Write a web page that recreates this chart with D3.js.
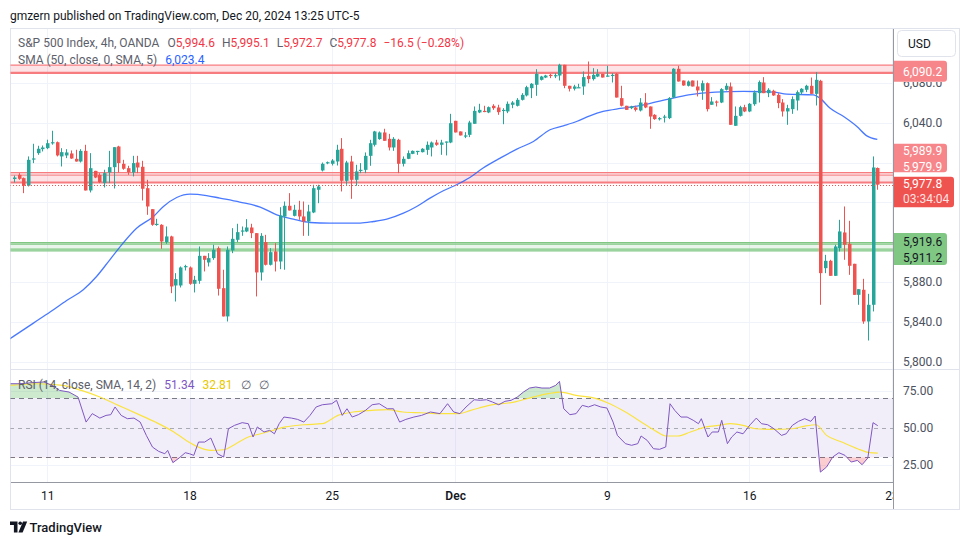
<!DOCTYPE html>
<html><head><meta charset="utf-8">
<script src="https://cdn.jsdelivr.net/npm/d3@7/dist/d3.min.js"></script>
<style>
html,body{margin:0;padding:0;background:#fff;}
svg{display:block;}
text{font-family:Roboto,"Noto Sans",sans-serif;}
</style></head><body>
<svg id="chart" width="970" height="545"></svg>
<script>
// ---------------- data ----------------
const opens = [5983.5,5987.7,5984.4,5976.7,6003.5,6009.5,6013.5,6014.5,6019.8,6020.5,
6006.2,6007.2,6009.2,6003.8,6001.1,6011.8,5972,5991.7,5987.7,5979.4,
5990.1,5995.4,6016.2,5998.8,5994.4,5990.1,6000.1,5995.8,5974.3,5953.2,
5937.8,5937.5,5920.1,5925.8,5876.5,5876.5,5895.3,5894.6,5878.2,5881.2,
5906.3,5899.6,5904,5914,5873.8,5845.4,5911.7,5922.4,5931,5930.8,
5934.8,5929.1,5889.6,5920.1,5897.3,5910.7,5900.6,5945.8,5956.6,5946.5,
5952.6,5945.9,5940.8,5949.9,5972.7,5992.1,5999.8,5998.8,6001.1,6013.9,
5981.7,6001.1,5982.7,5992,5992.7,6006.8,6017.9,6023.6,6030.3,6023.9,
6015.2,6022.9,5998.8,6003.8,6008.8,6011.5,6010.5,6012.8,6015.2,6020.2,
6017.9,6020.9,6020.2,6042,6031.3,6027,6027.9,6039,6050.4,6052,
6050.4,6057.1,6055.4,6052.4,6051.4,6058.1,6057.1,6063.1,6067.5,6074.8,
6078.2,6083.2,6085.5,6088.2,6086.9,6087.5,6098.3,6077.2,6074.2,6075.5,
6076.5,6087.2,6083.9,6086.5,6089.2,6087.2,6087.9,6089.2,6064.8,6057.1,
6054.7,6055.4,6052.4,6060.4,6056.4,6048,6044.5,6045.9,6044.7,6065.4,
6094.3,6082.5,6077.2,6082.5,6076.5,6072.2,6079.8,6058.1,6061.4,6060.4,
6073.2,6076.5,6037,6047,6055.7,6051.4,6058.7,6069.8,6080.5,6069.8,
6072.2,6068.1,6060.4,6051.4,6053.7,6062.4,6070.5,6073.2,6077.2,6069.1,
6082.2,5893.9,5901.3,5886.2,5914,5929.8,5918.4,5898.3,5867.1,5872.2,
5840.3,5857.1,5994.6];
const highs = [5987,5989.4,5985,6006.2,6018.9,6016.9,6017.2,6023,6032,6021.2,
6014.5,6013.5,6012.2,6012.9,6013.5,6017.9,6009.5,5991.7,5989.4,5992.8,
6011.8,6015.5,6016.9,6002.8,5996.8,6006.8,6006.8,6001.8,5982.7,5953.2,
5943.5,5938.1,5935.8,5926.5,5888.9,5895.6,5897.3,5895.6,5886.2,5915.7,
5906.3,5909,5917.4,5915.7,5892.3,5915.7,5934.1,5938.5,5935.8,5943.2,
5938.5,5929.1,5929.1,5927.4,5914,5919,5955.2,5960.9,5969.3,5957.6,
5961.6,5960.9,5957.6,5977.7,5977.7,6000.1,6001.1,6003.5,6017.9,6024.6,
6001.8,6006.8,5997.8,5999.5,6010.2,6022.9,6031.9,6031.3,6034,6028.9,
6025.6,6023.9,6006.2,6012.2,6012.2,6011.8,6014.5,6021.2,6021.2,6022.9,
6022.9,6021.2,6049,6042,6031.3,6030.6,6042,6056.4,6059.1,6057.1,
6056.4,6058.7,6058.1,6054.7,6061.4,6061.8,6064.8,6069.8,6077.2,6079.9,
6093.9,6087.2,6088.2,6089.2,6089.9,6099.3,6098.3,6077.2,6078.2,6079.2,
6091.6,6101.6,6094.9,6093.9,6089.2,6097.3,6089.9,6089.9,6077.2,6057.1,
6057.1,6057.1,6064.8,6069.8,6056.4,6048.7,6045.7,6048,6065.8,6094.9,
6097.3,6082.5,6082.5,6082.5,6082.5,6082.5,6080.5,6065.8,6062.4,6074.8,
6079.8,6080.5,6056.4,6057.1,6058.1,6059.8,6072.5,6082.5,6085.9,6074.8,
6073.2,6069.8,6063.8,6058.1,6066.5,6072.5,6074.8,6078.2,6085.5,6090.9,
6083.2,5907.3,5902.3,5917.4,5942.5,5955.9,5941.5,5898.3,5872.8,5883.2,
5868.1,6006.2,5995.1];
const lows = [5980,5982.7,5969.3,5976,5999.5,6007.8,6011.2,6013.5,6018,6006.2,
5996.1,6004.5,6003.8,6001,6000.1,5972,5970,5984.4,5979.4,5975,
5979.4,5974,5990.1,5992.8,5987.7,5986.1,5989.4,5961.9,5947.5,5936.5,
5936.5,5913.4,5918.4,5868.8,5860.4,5874.5,5891.6,5877.2,5869.5,5878.2,
5890.6,5895.6,5902.3,5866.4,5845.4,5840.3,5909,5920.1,5926.4,5930.1,
5924.1,5865.5,5881.5,5896.6,5896.6,5890.6,5892.9,5892.3,5951.9,5945.9,
5942.5,5926.4,5926.4,5949.2,5959.2,5991.1,5998.4,5997.1,5997.1,5971,
5977.7,5963.6,5976.7,5989.4,5989.4,5996.8,6016.2,6022.9,6021.9,6012.2,
6011.8,5989.4,5996.1,6003.5,6008.5,6007.8,6010.2,6007.8,6006.2,6016.9,
6007.8,6007.2,6019.5,6030.3,6027.3,6024.6,6025.6,6039,6049.7,6050.7,
6049.7,6053,6048,6038.6,6049.7,6054.7,6056.4,6062.4,6066.5,6064.8,
6067.1,6082.5,6084.9,6084.9,6084.9,6082.5,6074.8,6071.5,6072.5,6075.5,
6068.1,6079.8,6082.5,6085.9,6085.5,6086.5,6080.5,6065.4,6056.4,6053,
6053.7,6051.4,6051.4,6054.7,6034,6043,6042.3,6040.3,6043.7,6064.8,
6081.5,6077.2,6076.5,6076.5,6066.5,6063.1,6051.4,6058.1,6056.4,6059.8,
6072.5,6038,6037,6046.3,6050.7,6050.7,6057.1,6060.4,6069.8,6065.8,
6067.1,6054.7,6046.3,6038,6049,6052.4,6068.1,6070.8,6069.1,6057.4,
5857.1,5888.9,5886.2,5886.2,5910.7,5902.3,5887.2,5867.1,5857.1,5838,
5821.2,5850.4,5972.7];
const closes = [5985,5983.7,5976.7,6002.8,6004.2,6013.9,6015.2,6019.5,6020.5,6007.2,
6010.5,6010.2,6004.1,6001.1,6011.8,5972,5994.4,5985,5980.4,5989.4,
5995.4,6015.5,5999.5,5993.8,5990.4,5999.5,5995.1,5973.7,5955.9,5937.5,
5938.5,5920.7,5925.8,5875.5,5882.9,5894.6,5896,5878.2,5882.2,5906.3,
5902.3,5904,5912.4,5873.2,5845.4,5912.4,5923.4,5930.1,5931.8,5934.8,
5929.1,5889.6,5926.4,5897.3,5910,5900.6,5946.9,5956.6,5951.9,5952.6,
5945.9,5940.8,5950.9,5974.3,5976,5998.8,6000.4,6002.1,6012.9,5981.7,
6000.1,5982.7,5991.1,5992.8,6006.8,6019.5,6031.3,6030.3,6021.9,6015.2,
6023.9,5998.8,6003.8,6009.5,6011.8,6011.8,6013.9,6017.9,6020.2,6017.9,
6020.2,6021.2,6039.6,6030.3,6027.3,6027.3,6040.3,6052,6053,6051.4,
6055.7,6054.7,6050.7,6053,6059.1,6060.4,6063.1,6068.1,6075.8,6079.2,
6089.2,6086.5,6087.5,6087.2,6087.9,6098.3,6077.2,6074.2,6076.5,6075.8,
6085.9,6083.9,6088.2,6089.2,6085.5,6087.5,6088.2,6065.4,6057.1,6053,
6056.4,6053,6060.4,6055.4,6046.3,6043.7,6044.7,6046.3,6064.8,6094.3,
6081.5,6077.5,6081.5,6076.5,6072.5,6079.8,6053.7,6061.4,6060.4,6073.8,
6077.2,6038,6047,6055.7,6051.4,6059.1,6070.5,6080.9,6069.8,6073.2,
6067.5,6059.8,6051.4,6054.7,6063.8,6070.8,6074.2,6077.2,6069.1,6083.2,
5888.9,5901.3,5886.2,5915.7,5930.8,5917.4,5896.3,5867.1,5872.8,5840.3,
5857.1,5995.1,5977.8];

const smaIdx = [-1,4.1,7.6,11.1,14.6,17.4,20.2,23.0,25.9,29.4,31.5,34.3,37.1,40.6,43.4,47.6,51.9,55.4,58.9,62.4,66.6,73,75.8,78.6,82.1,84.9,87.7,90.5,93.3,96.1,98.9,102.5,106,109.5,113,115.8,118.6,121.4,124.2,127.8,130.9,133.7,138,142.2,147.9,153.8,160.1,162.9,168.5,169.9,172,174.9,177.7,179.8,182];
const smaVal = [5822.5,5838.7,5849.8,5861.4,5872.2,5885.5,5902.3,5919.1,5934.2,5945.8,5955.9,5964.9,5968.3,5966.9,5964.3,5960.3,5955.3,5947.5,5943.2,5939.8,5939.2,5939.2,5940.8,5943.2,5949.2,5955.9,5964.3,5971.7,5977.7,5985.0,5994.5,6004.5,6013.6,6021.2,6033,6037,6041.3,6047,6051.4,6054.4,6056.4,6059.1,6063.8,6068.1,6070.9,6071.5,6070.9,6068.8,6068.1,6064.8,6054.8,6046.3,6036.3,6026.9,6023.4];

const rsiIdx = [-0.8,1.1,3.7,6.3,8.3,9.6,11.6,13.5,15.2,16.5,18.1,19.4,20.4,21.3,22.6,23.9,25.3,26.6,27.9,29.2,30.5,31.8,32.4,33.5,34.8,36.1,37.0,37.9,38.9,40.2,41.5,42.9,44.2,45.2,46.5,48.1,49.4,50.4,51.3,52.7,53.9,54.9,55.9,56.9,58.5,59.8,61.1,62.4,63.7,65.0,67.0,68.0,69.2,70.2,71.3,72.6,74.1,75.5,77.0,78.7,80.0,81.3,82.6,84.3,85.9,87.8,89.8,91.4,92.7,94.0,95.3,97.0,98.3,99.6,100.9,102.2,103.5,104.8,106.1,107.4,108.7,110.0,111.3,112.9,114.2,115.0,115.9,117.2,118.5,119.8,121.1,122.4,123.7,125.0,126.3,127.2,128.9,130.2,131.5,132.2,133.5,134.8,136.1,137.4,138.3,139.3,140.6,141.9,143.2,144.3,144.9,146.3,147.2,148.5,149.2,150.4,151.3,152.4,153.7,155.2,156.5,157.6,158.9,160.2,161.8,162.8,164.1,165.4,166.7,168.0,168.9,170.0,171.3,172.6,173.9,175.2,176.5,177.8,178.8,180.0,181.1,182.1];
const rsiVal = [79.7,79.7,80.4,80.9,78.2,75.2,74.1,70.7,53.8,59.5,56.5,58.3,58.8,64.0,58.3,56.1,56.5,53.8,44.8,36.9,34.0,32.4,34.7,26.4,29.5,33.1,32.4,31.3,40.3,40.3,43.0,32.4,30.2,49.3,51.6,53.4,52.7,43.7,50.5,47.1,48.2,45.9,52.7,57.2,56.5,55.6,53.8,58.3,64.0,65.5,66.2,68.5,58.3,62.8,57.2,58.8,61.7,65.5,66.2,62.8,62.8,53.8,55.6,57.2,58.3,60.6,59.5,66.2,60.6,59.5,64.0,68.9,68.5,68.9,67.3,65.5,67.8,68.5,70.7,74.1,76.8,77.5,76.8,76.8,78.6,81.3,62.8,58.8,59.5,65.1,64.0,65.5,64.0,63.3,53.8,44.8,39.2,38.1,39.2,44.4,41.4,35.8,35.4,37.0,66.2,61.7,57.2,57.2,55.0,52.7,56.1,43.7,47.1,47.1,55.0,39.2,43.7,47.1,45.9,52.0,56.5,52.7,52.0,49.3,44.8,45.9,51.6,54.3,56.1,54.3,57.9,20.0,23.4,30.2,33.1,31.3,26.8,27.9,25.0,29.5,53.4,51.34];

const rsiMaIdx = [-0.8,5.0,10.3,14.2,18.1,22.0,25.9,29.8,33.7,36.3,38.9,41.5,44.2,46.8,49.4,52.0,54.6,57.2,61.1,65.0,68.3,71.5,75.5,78.7,82.0,85.9,89.8,93.7,96.3,100.2,105.4,109.4,112.6,115.2,118.5,122.4,125.6,128.9,132.8,135.4,137.4,140.0,142.6,145.9,148.5,151.1,153.7,156.3,160.2,164.1,166.7,169.1,171.3,174.5,177.8,180.4,182.1];
const rsiMaVal = [78.6,79.7,78.6,75.2,70.7,65.1,59.5,53.8,47.1,41.4,36.9,34.7,35.1,39.2,43.7,45.9,48.2,50.5,52.0,52.7,58.3,60.6,61.7,62.2,60.6,60.1,59.5,59.5,61.7,65.1,67.3,70.7,73.0,74.1,71.8,70.0,66.2,60.6,52.7,47.5,44.4,44.4,47.1,50.5,51.6,52.7,51.6,49.3,48.9,49.3,51.1,52.0,44.8,40.3,35.8,33.1,32.81];

const timeTickIdx = [7,37,67,93,125,155,185];
const timeTickLabels = ["11","18","25","Dec","9","16","23"];
const priceTicks = [5800,5840,5880,5920,5960,6000,6040,6080];      // grid levels
const priceTickLabels = [5800,5840,5880,6040,6080];                 // labels not hidden by price tags
const rsiTicks = [25,50,75];
const rsiLevels = [70,50,30];
const resistTopLines = [6098.0,6090.2];
const resistMidLines = [5989.9,5987.4,5979.9];
const supportLines = [5919.6,5918.0,5913.0,5911.2];
const lastPrice = 5977.8;
const countdown = "03:34:04";
const legendVals = {O:"5,994.6",H:"5,995.1",L:"5,972.7",C:"5,977.8",chg:"\u221216.5 (\u22120.28%)"};
const smaLast = "6,023.4", rsiLast = "51.34", rsiMaLast = "32.81";

// ---------------- drawing ----------------
const svg = d3.select("#chart");
const RED = "#ef5350", GREEN = "#26a69a", GRID = "#f0f3fa", TXT = "#131722", GRAY = "#5d606b";
const pL = 10, axisX = 893, pT = 28, paneBot = 368, rsiTop = 369, rsiBot = 482, pR = 960, pB = 510;

const x = d3.scaleLinear().domain([0,182]).range([14,877.3]);
const y = d3.scaleLinear().domain([5800,6080]).range([361.6,83]);
const yr = d3.scaleLinear().domain([25,75]).range([464.7,390.7]);
const fmt = d3.format(",.1f");

const defs = svg.append("defs");
defs.append("clipPath").attr("id","mainClip").append("rect")
  .attr("x",pL+0.5).attr("y",pT+0.5).attr("width",axisX-pL-0.5).attr("height",paneBot-pT-0.5);
defs.append("clipPath").attr("id","rsiClip").append("rect")
  .attr("x",pL+0.5).attr("y",rsiTop).attr("width",axisX-pL-0.5).attr("height",rsiBot-rsiTop);
defs.append("clipPath").attr("id","timeClip").append("rect")
  .attr("x",pL).attr("y",-5).attr("width",axisX-pL+1).attr("height",40);
defs.append("clipPath").attr("id","obClip").append("rect")
  .attr("x",0).attr("y",0).attr("width",970).attr("height",yr(70));
defs.append("clipPath").attr("id","osClip").append("rect")
  .attr("x",0).attr("y",yr(30)).attr("width",970).attr("height",545-yr(30));
defs.append("clipPath").attr("id","axisClip").append("rect")
  .attr("x",0).attr("y",y(6090.2)+9.2).attr("width",970).attr("height",545);

// header
svg.append("text").attr("x",10).attr("y",19.5).attr("font-size",12).attr("fill",TXT)
  .text("gmzern published on TradingView.com, Dec 20, 2024 13:25 UTC-5");

// frame
svg.append("rect").attr("x",pL+0.5).attr("y",pT+0.5).attr("width",pR-pL-1).attr("height",pB-pT-1)
  .attr("fill","#fff").attr("stroke","#e0e3eb");

// grid
const gGrid = svg.append("g");
gGrid.selectAll("line.h").data(priceTicks).join("line").attr("class","h")
  .attr("x1",pL+1).attr("x2",axisX).attr("y1",d=>Math.round(y(d))+0.5).attr("y2",d=>Math.round(y(d))+0.5)
  .attr("stroke",GRID);
gGrid.selectAll("line.r").data(rsiTicks.filter(d=>d!==50)).join("line").attr("class","r")
  .attr("x1",pL+1).attr("x2",axisX).attr("y1",d=>Math.round(yr(d))+0.5).attr("y2",d=>Math.round(yr(d))+0.5)
  .attr("stroke",GRID);
gGrid.selectAll("line.v").data(timeTickIdx.filter(d=>x(d)<axisX)).join("line").attr("class","v")
  .attr("x1",d=>Math.round(x(d))+0.5).attr("x2",d=>Math.round(x(d))+0.5)
  .attr("y1",pT+1).attr("y2",rsiBot).attr("stroke",GRID);

// main pane
const main = svg.append("g").attr("clip-path","url(#mainClip)");
const hline = (g,v,col,w,dash)=>g.append("line").attr("x1",pL).attr("x2",axisX)
  .attr("y1",y(v)).attr("y2",y(v)).attr("stroke",col).attr("stroke-width",w).attr("stroke-dasharray",dash||null);

main.append("rect").attr("x",pL).attr("width",axisX-pL)
  .attr("y",y(d3.max(resistTopLines))).attr("height",y(d3.min(resistTopLines))-y(d3.max(resistTopLines)))
  .attr("fill","rgba(242,54,69,0.14)");
hline(main,resistTopLines[0],"#f77c80",1.2);
hline(main,resistTopLines[1],"#f77c80",2.2);
main.append("rect").attr("x",pL).attr("width",axisX-pL)
  .attr("y",y(d3.max(resistMidLines))).attr("height",y(d3.min(resistMidLines))-y(d3.max(resistMidLines)))
  .attr("fill","rgba(242,54,69,0.14)");
hline(main,resistMidLines[0],"#f77c80",1.2);
hline(main,resistMidLines[1],"#f77c80",1);
hline(main,resistMidLines[2],"#f77c80",2);
main.append("rect").attr("x",pL).attr("width",axisX-pL)
  .attr("y",y(d3.max(supportLines))).attr("height",y(d3.min(supportLines))-y(d3.max(supportLines)))
  .attr("fill","rgba(76,175,80,0.12)");
supportLines.forEach(v=>hline(main,v,"#81c784",1.3));

// SMA
main.append("path").datum(smaIdx.map((d,i)=>[d,smaVal[i]]))
  .attr("d",d3.line().x(d=>x(d[0])).y(d=>y(d[1])).curve(d3.curveMonotoneX))
  .attr("fill","none").attr("stroke","#2962ff").attr("stroke-width",1.3).attr("stroke-opacity",0.85);

// candles
const bars = d3.range(opens.length).map(i=>({i,o:opens[i],h:highs[i],l:lows[i],c:closes[i]}));
const cand = main.append("g").selectAll("g").data(bars).join("g");
cand.append("line")
  .attr("x1",d=>Math.round(x(d.i))+0.5).attr("x2",d=>Math.round(x(d.i))+0.5)
  .attr("y1",d=>y(d.h)).attr("y2",d=>y(d.l))
  .attr("stroke",d=>d.c>=d.o?GREEN:RED).attr("stroke-width",1);
cand.append("rect")
  .attr("x",d=>Math.round(x(d.i))-1).attr("width",3.5)
  .attr("y",d=>y(Math.max(d.o,d.c)))
  .attr("height",d=>Math.max(1.2,Math.abs(y(d.o)-y(d.c))))
  .attr("fill",d=>d.c>=d.o?GREEN:RED);

main.append("line").attr("x1",pL).attr("x2",axisX)
  .attr("y1",Math.round(y(lastPrice))+0.5).attr("y2",Math.round(y(lastPrice))+0.5)
  .attr("stroke",RED).attr("stroke-width",1).attr("stroke-dasharray","1,2");

// legend
const lg = svg.append("text").attr("x",18).attr("y",47).attr("font-size",12).attr("fill",GRAY);
lg.append("tspan").text("S&P 500 Index, 4h, OANDA");
[["O",legendVals.O],["H",legendVals.H],["L",legendVals.L],["C",legendVals.C]].forEach(([k,v],j)=>{
  lg.append("tspan").attr("dx",j===0?8:7).text(k);
  lg.append("tspan").attr("fill","#f23645").text(v);
});
lg.append("tspan").attr("dx",7).attr("fill","#f23645").text(legendVals.chg);
const lg2 = svg.append("text").attr("x",18).attr("y",63.5).attr("font-size",12).attr("fill",GRAY);
lg2.append("tspan").text("SMA (50, close, 0, SMA, 5)");
lg2.append("tspan").attr("dx",8).attr("fill","#2962ff").text(smaLast);

// RSI pane
const rg = svg.append("g").attr("clip-path","url(#rsiClip)");
rg.append("rect").attr("x",pL).attr("width",axisX-pL).attr("y",yr(70)).attr("height",yr(30)-yr(70))
  .attr("fill","rgba(126,87,194,0.10)");
rsiLevels.forEach(v=>{
  rg.append("line").attr("x1",pL).attr("x2",axisX).attr("y1",Math.round(yr(v))+0.5).attr("y2",Math.round(yr(v))+0.5)
    .attr("stroke","#787b86").attr("stroke-width",1).attr("stroke-dasharray",v===50?"4,4":"5,4").attr("stroke-opacity",v===50?0.6:1);
});
const rsiPts = rsiIdx.map((d,i)=>[d,rsiVal[i]]);
rg.append("path").datum(rsiPts).attr("clip-path","url(#obClip)")
  .attr("d",d3.area().x(d=>x(d[0])).y0(yr(70)).y1(d=>yr(d[1])))
  .attr("fill","rgba(76,175,80,0.28)");
rg.append("path").datum(rsiPts).attr("clip-path","url(#osClip)")
  .attr("d",d3.area().x(d=>x(d[0])).y0(yr(30)).y1(d=>yr(d[1])))
  .attr("fill","rgba(242,54,69,0.25)");
rg.append("path").datum(rsiMaIdx.map((d,i)=>[d,rsiMaVal[i]]))
  .attr("d",d3.line().x(d=>x(d[0])).y(d=>yr(d[1])).curve(d3.curveMonotoneX))
  .attr("fill","none").attr("stroke","#fbe33f").attr("stroke-width",1.2);
rg.append("path").datum(rsiPts)
  .attr("d",d3.line().x(d=>x(d[0])).y(d=>yr(d[1])))
  .attr("fill","none").attr("stroke","#7e57c2").attr("stroke-width",1);

const rl = svg.append("text").attr("x",18).attr("y",389).attr("font-size",12).attr("fill",GRAY);
rl.append("tspan").text("RSI (14, close, SMA, 14, 2)");
rl.append("tspan").attr("dx",8).attr("fill","#7e57c2").text(rsiLast);
rl.append("tspan").attr("dx",8).attr("fill","#e8c800").text(rsiMaLast);
rl.append("tspan").attr("dx",8).text("\u2205");
rl.append("tspan").attr("dx",8).text("\u2205");

// separators
svg.append("line").attr("x1",pL+1).attr("x2",axisX).attr("y1",rsiTop+0.5).attr("y2",rsiTop+0.5).attr("stroke","#e0e3eb");
svg.append("line").attr("x1",pL+1).attr("x2",axisX).attr("y1",rsiBot+0.5).attr("y2",rsiBot+0.5).attr("stroke","#9598a1");
svg.append("line").attr("x1",axisX).attr("x2",pR-1).attr("y1",rsiTop+0.5).attr("y2",rsiTop+0.5).attr("stroke","#e0e3eb");

// price axis
const pa = svg.append("g").attr("clip-path","url(#axisClip)").append("g").attr("transform",`translate(${axisX},0)`)
  .call(d3.axisRight(y).tickValues(priceTickLabels).tickFormat(fmt).tickSize(0).tickPadding(10));
pa.select(".domain").remove();
pa.selectAll("text").attr("font-size",12).attr("fill","#4c525e").attr("font-family","Roboto, 'Noto Sans', sans-serif");
const ra = svg.append("g").attr("transform",`translate(${axisX},0)`)
  .call(d3.axisRight(yr).tickValues(rsiTicks).tickFormat(d3.format(".2f")).tickSize(0).tickPadding(10));
ra.select(".domain").remove();
ra.selectAll("text").attr("font-size",12).attr("fill","#4c525e").attr("font-family","Roboto, 'Noto Sans', sans-serif");

// time axis
const taWrap = svg.append("g").attr("transform",`translate(0,${rsiBot})`);
const ta = taWrap.append("g").attr("clip-path","url(#timeClip)")
  .call(d3.axisBottom(x).tickValues(timeTickIdx).tickFormat((d,i)=>timeTickLabels[i]).tickSize(0).tickPadding(9));
ta.select(".domain").remove();
ta.selectAll("text").attr("font-size",12).attr("fill",TXT).attr("font-family","Roboto, 'Noto Sans', sans-serif")
  .attr("font-weight",(d,i)=>timeTickLabels[i]==="Dec"?600:400);

svg.append("line").attr("x1",axisX+0.5).attr("x2",axisX+0.5).attr("y1",pT+1).attr("y2",pB-1).attr("stroke","#9598a1");

// price tags on axis
const lab = svg.append("g");
function box(y0,h,fill,w){ w=w||53; lab.append("path")
  .attr("d",`M${axisX+1},${y0} h${w-3} a3,3 0 0 1 3,3 v${h-6} a3,3 0 0 1 -3,3 h-${w-3} z`).attr("fill",fill); }
function ltxt(yc,t,col,op){ lab.append("text").attr("x",axisX+10).attr("y",yc).attr("dy","0.35em")
  .attr("font-size",12).attr("fill",col).attr("fill-opacity",op||1).text(t); }
const ty = y(resistTopLines[1]);
box(ty-12,21,"#f7868a");
ltxt(ty-1.5,fmt(resistTopLines[1]),"#fff");
const cy = y(lastPrice);
box(cy-8,30.5,RED,60);
ltxt(cy-0.5,fmt(lastPrice),"#fff");
ltxt(cy+14.5,countdown,"#fff",0.85);
box(cy-41,28.5,"#f7868a");
ltxt(cy-33.5,fmt(resistMidLines[0]),"#fff");
ltxt(cy-17.8,fmt(resistMidLines[2]),"#fff");
const sy = y(supportLines[0]);
box(sy-9.5,32,"#81c784");
ltxt(sy-1,fmt(supportLines[0]),TXT);
ltxt(sy+15,fmt(supportLines[3]),TXT);

// USD button
svg.append("rect").attr("x",897.5).attr("y",30.5).attr("width",58).attr("height",26).attr("rx",4)
  .attr("fill","#fff").attr("stroke","#e0e3eb");
svg.append("text").attr("x",908).attr("y",43.5).attr("dy","0.35em").attr("font-size",12).attr("fill",TXT).text("USD");

// TradingView logo
const logo = svg.append("g").attr("fill",TXT);
logo.append("path").attr("d","M10,521.5 h7.5 v11 h-3.6 v-7.4 h-3.9 z");
logo.append("circle").attr("cx",20.2).attr("cy",523.3).attr("r",1.8);
logo.append("path").attr("d","M23,521.5 h4.2 l-4.6,11 h-4.2 z");
svg.append("text").attr("x",29.5).attr("y",531.5).attr("font-size",13).attr("font-weight",500).attr("fill",TXT).text("TradingView");
</script>
</body></html>
